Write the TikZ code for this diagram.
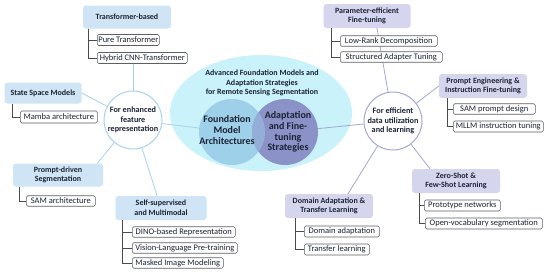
\documentclass[tikz,border=0pt]{standalone}
\usepackage{fontspec}
\setmainfont{Carlito}
\usetikzlibrary{calc,shapes.geometric}
\definecolor{ellc}{HTML}{C9F2FA}
\definecolor{fcc}{HTML}{9FD0EA}
\definecolor{acc}{HTML}{8A92C8}
\definecolor{ovc}{HTML}{93AED7}
\definecolor{lcat}{HTML}{CFE4F4}
\definecolor{rcat}{HTML}{D5D5EE}
\definecolor{lline}{HTML}{A6D2EE}
\definecolor{rline}{HTML}{A6A6D6}
\definecolor{leafc}{HTML}{5E5E66}
\definecolor{brkc}{HTML}{4A4A4A}
\definecolor{txt}{HTML}{1B2333}
\begin{document}
\begin{tikzpicture}[x=1pt,y=-1pt,
  every node/.style={text=txt},
  cat/.style={rounded corners=3pt, align=center, inner sep=1pt,
    font=\bfseries\fontsize{8}{9.6}\selectfont},
  lcatbox/.style={cat, fill=lcat},
  rcatbox/.style={cat, fill=rcat},
  leaf/.style={draw=leafc, fill=white, rounded corners=1.5pt, anchor=west,
    line width=0.6pt, inner sep=0pt, font=\fontsize{8.5}{9}\selectfont},
  brk/.style={draw=brkc, line width=0.6pt},
  lconn/.style={draw=lline, line width=0.8pt},
  rconn/.style={draw=rline, line width=0.8pt},
  hub/.style={circle, fill=white, line width=1pt, minimum size=58pt,
    inner sep=0pt, align=center, font=\bfseries\fontsize{8.2}{9.3}\selectfont},
  ctext/.style={align=center, font=\bfseries\fontsize{10}{10.8}\selectfont}]
\useasboundingbox (0,0) rectangle (550,274);
\fill[white] (0,0) rectangle (550,274);

% centre
\node[ellipse, fill=ellc, minimum width=182pt, minimum height=116pt, inner sep=0pt] (ell) at (261,113) {};
\node[circle, fill=fcc, minimum size=66pt, inner sep=0pt] (fcirc) at (232,132) {};
\node[circle, fill=acc, minimum size=66pt, inner sep=0pt] (acirc) at (285,132) {};
\begin{scope}
  \clip (fcirc.center) circle[radius=33pt];
  \fill[ovc] (acirc.center) circle[radius=33pt];
\end{scope}
\node[align=center, font=\bfseries\fontsize{8}{9.6}\selectfont] (title) at (262,83)
  {Advanced Foundation Models and\\Adaptation Strategies\\for Remote Sensing Segmentation};
\node[ctext] (ftext) at (227,130) {Foundation\\Model\\Architectures};
\node[ctext] (atext) at (288,132) {Adaptation\\and Fine-\\tuning\\Strategies};

% hubs
\node[hub, draw=lline] (lhub) at (133,120) {For enhanced\\feature\\representation};
\node[hub, draw=rline] (rhub) at (393,121) {For efficient\\data utilization\\and learning};

% category boxes
\node[lcatbox, minimum width=88pt, minimum height=23pt] (tb) at (127,17) {Transformer-based};
\node[lcatbox, minimum width=77pt, minimum height=21pt] (ssm) at (43,93) {State Space Models};
\node[lcatbox, minimum width=90pt, minimum height=23pt] (pds) at (58,175) {Prompt-driven\\Segmentation};
\node[lcatbox, minimum width=91pt, minimum height=24pt] (ssl) at (161,208) {Self-supervised\\and Multimodal};
\node[rcatbox, minimum width=87pt, minimum height=24pt] (pef) at (367,16) {Parameter-efficient\\Fine-tuning};
\node[rcatbox, minimum width=88pt, minimum height=24pt] (pe) at (483,86) {Prompt Engineering \&\\Instruction Fine-tuning};
\node[rcatbox, minimum width=88pt, minimum height=24pt] (da) at (329,206) {Domain Adaptation \&\\Transfer Learning};
\node[rcatbox, minimum width=88pt, minimum height=24pt] (zs) at (456,181) {Zero-Shot \&\\Few-Shot Learning};

% connectors hub -> categories / centre
\path[lconn] (lhub) -- (fcirc);
\path[rconn] (rhub) -- (acirc);
\path[lconn] (lhub) -- (ssm.east);
\path[lconn] (lhub) -- ([xshift=-6pt]pds.north east);
\path[lconn] (lhub) -- (ssl);
\path[rconn] (rhub) -- ([xshift=10pt]pef.south);
\path[rconn] (rhub) -- (pe.west);
\path[rconn] (rhub) -- ([xshift=19pt]da.north);
\path[rconn] (rhub) -- ([xshift=-26pt]zs.north);

% leaves
\node[leaf, minimum width=62pt, minimum height=11pt] (pt) at (97,40) {Pure Transformer};
\node[leaf, minimum width=90pt, minimum height=11pt] (hy) at (97,58) {Hybrid CNN-Transformer};
\path[lconn] (lhub) -- (lhub |- hy.south);
\node[leaf, minimum width=77pt, minimum height=12pt] (mamba) at (20,117) {Mamba architecture};
\node[leaf, minimum width=69pt, minimum height=10.5pt] (sam) at (26,201) {SAM architecture};
\node[leaf, minimum width=103pt, minimum height=10.5pt] (dino) at (132,232) {DINO-based Representation};
\node[leaf, minimum width=105pt, minimum height=10.5pt] (vlp) at (132,248) {Vision-Language Pre-training};
\node[leaf, minimum width=91pt, minimum height=10.5pt] (mim) at (132,263) {Masked Image Modeling};
\node[leaf, minimum width=97pt, minimum height=10.5pt] (lrd) at (340,41) {Low-Rank Decomposition};
\node[leaf, minimum width=102pt, minimum height=10.5pt] (sat) at (340,57) {Structured Adapter Tuning};
\node[leaf, minimum width=82pt, minimum height=10.5pt] (spd) at (453,109) {SAM prompt design};
\node[leaf, minimum width=90pt, minimum height=11pt] (mit) at (453,126.5) {MLLM instruction tuning};
\node[leaf, minimum width=75pt, minimum height=11pt] (dad) at (304,231.5) {Domain adaptation};
\node[leaf, minimum width=65pt, minimum height=11pt] (tl) at (304,249.5) {Transfer learning};
\node[leaf, minimum width=76pt, minimum height=11pt] (pn) at (424,205.5) {Prototype networks};
\node[leaf, minimum width=117pt, minimum height=11pt] (ov) at (425,223.5) {Open-vocabulary segmentation};

% brackets
\path[brk] ($(tb.south west)+(5,0)$) |- (pt.west);
\path[brk] ($(tb.south west)+(5,0)$) |- (hy.west);
\path[brk] ($(ssm.south west)+(8,0)$) |- (mamba.west);
\path[brk] ($(pds.south west)+(6,0)$) |- (sam.west);
\path[brk] ($(ssl.south west)+(7,0)$) |- (dino.west);
\path[brk] ($(ssl.south west)+(7,0)$) |- (vlp.west);
\path[brk] ($(ssl.south west)+(7,0)$) |- (mim.west);
\path[brk] ($(pef.south west)+(8,0)$) |- (lrd.west);
\path[brk] ($(pef.south west)+(8,0)$) |- (sat.west);
\path[brk] ($(pe.south west)+(8,0)$) |- (spd.west);
\path[brk] ($(pe.south west)+(8,0)$) |- (mit.west);
\path[brk] ($(da.south west)+(10,0)$) |- (dad.west);
\path[brk] ($(da.south west)+(10,0)$) |- (tl.west);
\path[brk] ($(zs.south west)+(7,0)$) |- (pn.west);
\path[brk] ($(zs.south west)+(7,0)$) |- (ov.west);
\end{tikzpicture}
\end{document}
